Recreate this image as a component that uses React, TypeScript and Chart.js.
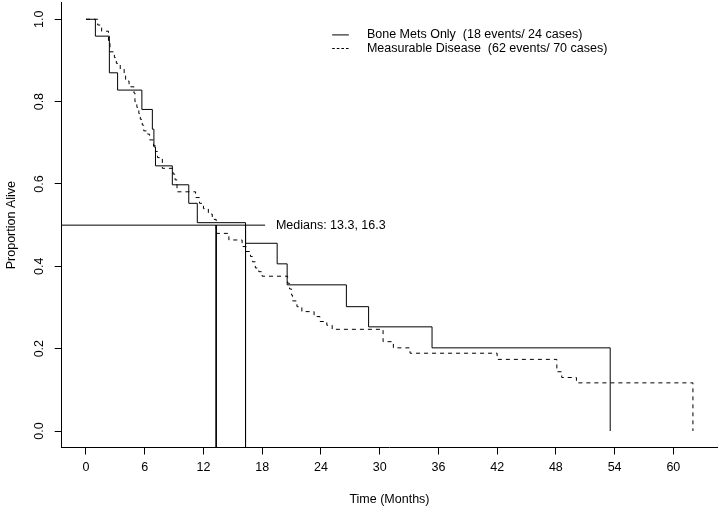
import React, { useEffect, useRef } from "react";
import { Chart, registerables } from "chart.js";
Chart.register(...registerables);

// ---- Data ----
const boneTimes = [0, 0.96, 2.39, 3.23, 5.71, 6.78, 6.94, 7.1, 8.82, 10.5, 11.37, 16.3, 19.53, 20.55, 26.6, 28.87, 35.35, 53.55];
const boneSurv = [1.0, 0.959, 0.87, 0.828, 0.781, 0.733, 0.69, 0.644, 0.598, 0.553, 0.506, 0.456, 0.406, 0.355, 0.302, 0.253, 0.202, 0.0];

const measTimes = [0, 1.2, 1.6, 2.3, 2.45, 2.9, 3.1, 3.5, 3.9, 4.05, 4.4, 4.9, 5.0, 5.2, 5.4, 5.55, 5.75, 5.9, 6.3, 6.5, 6.9, 7.1, 7.3, 7.8, 8.9, 9.1, 9.3, 11.2, 11.6, 12.0, 12.5, 12.9, 13.3, 14.6, 15.95, 16.35, 16.8, 17.0, 17.3, 17.65, 18.0, 20.6, 20.8, 21.0, 21.1, 21.55, 22.05, 23.3, 23.9, 24.6, 25.15, 30.35, 31.4, 33.1, 42.0, 48.1, 48.6, 50.1, 62.0];
const measSurv = [1.0, 0.986, 0.971, 0.943, 0.921, 0.907, 0.893, 0.879, 0.864, 0.85, 0.836, 0.821, 0.8, 0.786, 0.771, 0.757, 0.743, 0.729, 0.721, 0.707, 0.693, 0.679, 0.664, 0.638, 0.624, 0.61, 0.581, 0.567, 0.553, 0.54, 0.527, 0.514, 0.48, 0.464, 0.448, 0.436, 0.424, 0.411, 0.396, 0.387, 0.376, 0.359, 0.345, 0.33, 0.316, 0.302, 0.29, 0.278, 0.266, 0.257, 0.247, 0.217, 0.202, 0.189, 0.174, 0.144, 0.13, 0.117, 0.0];

const medianTimes = [13.3, 16.3];
const medianLevel = 0.5;
const medianLineEnd = 18.3;
const medianTextX = 19.4;

const xTicks = [0, 6, 12, 18, 24, 30, 36, 42, 48, 54, 60];
const yTicks = [0, 0.2, 0.4, 0.6, 0.8, 1.0];
const yTickLabels = ["0.0", "0.2", "0.4", "0.6", "0.8", "1.0"];

const legendLabels = [
  "Bone Mets Only  (18 events/ 24 cases)",
  "Measurable Disease  (62 events/ 70 cases)",
];
const legendDashes = [[], [2.6, 2]];
const legendRowsY = [0.962, 0.929];
const legendSampleX = [25.15, 26.85];
const legendTextX = 28.7;

const X_MIN = -2.48;
const X_MAX = 64.48;
const Y_MIN = -0.04;
const Y_MAX = 1.04;

const FONT = '"Liberation Sans", Arial, Helvetica, sans-serif';
const FS = 12.5;

const overlay = {
  id: "overlay",
  afterDraw(chart: any) {
    const ctx = chart.ctx;
    const xs = chart.scales.x;
    const ys = chart.scales.y;
    const area = chart.chartArea;
    ctx.save();
    ctx.fillStyle = "#000";
    ctx.strokeStyle = "#000";
    ctx.font = `${FS}px ${FONT}`;
    // rotated y tick labels
    ctx.textAlign = "center";
    ctx.textBaseline = "middle";
    yTicks.forEach((v, i) => {
      const py = ys.getPixelForValue(v);
      ctx.save();
      ctx.translate(area.left - 21.7, py);
      ctx.rotate(-Math.PI / 2);
      ctx.fillText(yTickLabels[i], 0, 0);
      ctx.restore();
    });
    // median annotation
    ctx.textAlign = "left";
    ctx.fillText(
      `Medians: ${medianTimes.map((m) => m.toFixed(1)).join(", ")}`,
      xs.getPixelForValue(medianTextX),
      ys.getPixelForValue(medianLevel)
    );
    // legend
    ctx.lineWidth = 1;
    legendLabels.forEach((lab, i) => {
      const py = ys.getPixelForValue(legendRowsY[i]);
      ctx.setLineDash(legendDashes[i]);
      ctx.beginPath();
      ctx.moveTo(xs.getPixelForValue(legendSampleX[0]), py);
      ctx.lineTo(xs.getPixelForValue(legendSampleX[1]), py);
      ctx.stroke();
      ctx.setLineDash([]);
      ctx.fillText(lab, xs.getPixelForValue(legendTextX), py);
    });
    ctx.restore();
  },
};

export default function App() {
  const ref = useRef<HTMLCanvasElement>(null);
  useEffect(() => {
    if (!ref.current) return;
    const lineBase = {
      showLine: true,
      borderColor: "#000",
      backgroundColor: "#000",
      borderWidth: 1,
      pointRadius: 0,
      fill: false,
    };
    const chart = new Chart(ref.current, {
      type: "scatter",
      data: {
        datasets: [
          {
            ...lineBase,
            label: "Bone Mets Only",
            data: boneTimes.map((t, i) => ({ x: t, y: boneSurv[i] })),
            stepped: "before",
          } as any,
          {
            ...lineBase,
            label: "Measurable Disease",
            data: measTimes.map((t, i) => ({ x: t, y: measSurv[i] })),
            stepped: "before",
            borderDash: [4, 4],
          } as any,
          {
            ...lineBase,
            label: "median",
            data: [
              { x: X_MIN, y: medianLevel },
              { x: medianLineEnd, y: medianLevel },
            ],
          },
          ...medianTimes.map((m) => ({
            ...lineBase,
            label: "median " + m,
            data: [
              { x: m, y: medianLevel },
              { x: m, y: Y_MIN },
            ],
          })),
        ],
      },
      options: {
        animation: false,
        responsive: false,
        events: [],
        layout: { padding: { top: 2.8, right: 1.8, left: 0, bottom: 0 } },
        plugins: { legend: { display: false }, tooltip: { enabled: false } },
        scales: {
          x: {
            type: "linear",
            min: X_MIN,
            max: X_MAX,
            afterBuildTicks: (s: any) => {
              s.ticks = xTicks.map((v) => ({ value: v }));
            },
            afterFit: (s: any) => {
              s.height = 511 - 447.5;
            },
            grid: { drawOnChartArea: false, drawTicks: true, tickLength: 7, color: "#000" },
            border: { display: true, color: "#000", width: 1 },
            ticks: {
              color: "#000",
              font: { family: FONT, size: FS },
              padding: 6,
              maxRotation: 0,
              autoSkip: false,
              callback: (v: any) => String(v),
            },
            title: {
              display: true,
              text: "Time (Months)",
              color: "#000",
              font: { family: FONT, size: FS },
              padding: { top: 4, bottom: 4 },
            },
          },
          y: {
            type: "linear",
            min: Y_MIN,
            max: Y_MAX,
            afterBuildTicks: (s: any) => {
              s.ticks = yTicks.map((v) => ({ value: v }));
            },
            afterFit: (s: any) => {
              s.width = 61.7;
            },
            grid: { drawOnChartArea: false, drawTicks: true, tickLength: 7, color: "#000" },
            border: { display: true, color: "#000", width: 1 },
            ticks: { display: false },
            title: {
              display: true,
              text: "Proportion Alive",
              color: "#000",
              font: { family: FONT, size: FS },
              padding: { top: 4, bottom: 4 },
            },
          },
        },
      },
      plugins: [overlay],
    });
    return () => chart.destroy();
  }, []);
  return (
    <div style={{ position: "absolute", left: 0, top: 0, width: 719, height: 511, background: "#fff" }}>
      <canvas ref={ref} width={719} height={511} style={{ display: "block" }} />
    </div>
  );
}
